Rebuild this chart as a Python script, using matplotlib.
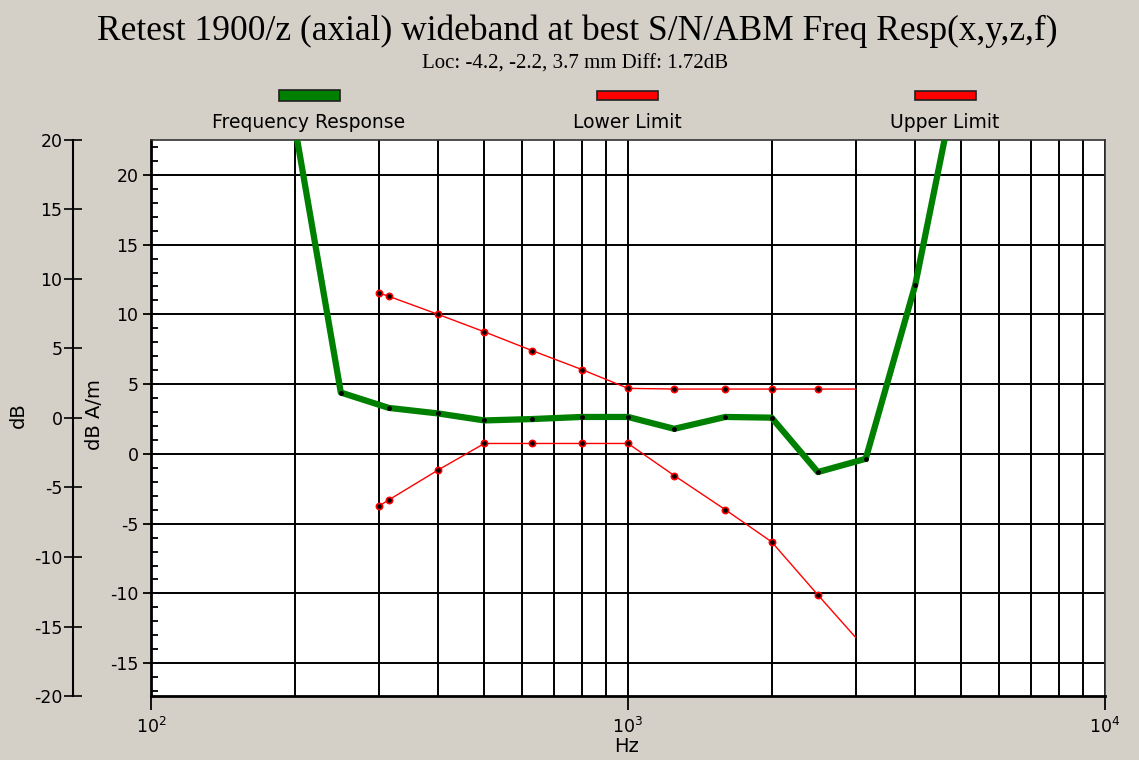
import matplotlib.pyplot as plt
from matplotlib.patches import Rectangle
from matplotlib.ticker import MultipleLocator, FixedLocator, NullFormatter

plt.rcParams["axes.unicode_minus"] = False

# Windows-style grey background
BG = "#d4d0c8"
GREEN = "#008000"
RED = "#ff0000"

# Frequency response (dB A/m)
fr_freq = [200, 250, 315, 400, 500, 630, 800, 1000, 1250, 1600, 2000, 2500, 3150, 4000, 5000]
fr_db = [23.6, 4.4, 3.3, 2.9, 2.4, 2.5, 2.65, 2.65, 1.8, 2.65, 2.6, -1.3, -0.35, 12.1, 28.5]

# Limit masks
lim_freq = [300, 315, 400, 500, 630, 800, 1000, 1250, 1600, 2000, 2500, 3000]
upper_db = [11.55, 11.3, 10.0, 8.75, 7.4, 6.05, 4.7, 4.65, 4.65, 4.65, 4.65, 4.65]
lower_db = [-3.75, -3.3, -1.15, 0.75, 0.75, 0.75, 0.75, -1.55, -4.0, -6.3, -10.1, -13.15]

legend_names = ["Frequency Response", "Lower Limit", "Upper Limit"]
legend_colors = [GREEN, RED, RED]

W, H = 1139, 760
fig = plt.figure(figsize=(W / 100, H / 100), dpi=100, facecolor=BG)

# plot box in pixels: left 151, right 1105, top 140, bottom 696
pos = [151 / W, 1 - 696 / H, (1105 - 151) / W, (696 - 140) / H]

# outer "dB" axis (drawn first, behind)
ax2 = fig.add_axes(pos)
ax2.patch.set_visible(False)
ax2.set_ylim(-20, 20)
ax2.set_xticks([])
for side in ["top", "right", "bottom"]:
    ax2.spines[side].set_visible(False)
ax2.spines["left"].set_position(("outward", 78 * 0.72))
ax2.spines["left"].set_linewidth(1.5)
ax2.yaxis.set_major_locator(MultipleLocator(5))
ax2.tick_params(axis="y", direction="inout", length=13, width=1.2, labelsize=12.5, pad=1)

# main axes
ax = fig.add_axes(pos, facecolor="white")
ax.set_xscale("log")
ax.set_xlim(100, 10000)
ax.set_ylim(-17.35, 22.5)

ax.xaxis.set_major_locator(FixedLocator([100, 1000, 10000]))
ax.xaxis.set_minor_locator(FixedLocator([200, 300, 400, 500, 600, 700, 800, 900,
                                         2000, 3000, 4000, 5000, 6000, 7000, 8000, 9000]))
ax.xaxis.set_minor_formatter(NullFormatter())
ax.yaxis.set_major_locator(MultipleLocator(5))
ax.yaxis.set_minor_locator(MultipleLocator(1))

ax.grid(True, which="major", axis="y", color="black", linewidth=1.4)
ax.grid(True, which="both", axis="x", color="black", linewidth=1.4)

ax.tick_params(axis="x", which="major", direction="out", length=10, width=1.3,
               labelsize=12.5, pad=5)
ax.tick_params(axis="x", which="minor", length=0)
ax.tick_params(axis="y", which="major", direction="out", length=6, width=1.3,
               labelsize=12.5, pad=3)
ax.tick_params(axis="y", which="minor", direction="in", length=5, width=1.3)

for side in ["left", "bottom"]:
    ax.spines[side].set_linewidth(2)
for side in ["top", "right"]:
    ax.spines[side].set_linewidth(1.2)
    ax.spines[side].set_color("#333333")

# limit lines
ax.plot(lim_freq, upper_db, color=RED, linewidth=1.0, marker="o", markersize=4.5,
        markerfacecolor="black", markeredgecolor=RED, markeredgewidth=1.2,
        markevery=slice(0, -1), zorder=3)
ax.plot(lim_freq, lower_db, color=RED, linewidth=1.0, marker="o", markersize=4.5,
        markerfacecolor="black", markeredgecolor=RED, markeredgewidth=1.2,
        markevery=slice(0, -1), zorder=3)

# frequency response
ax.plot(fr_freq, fr_db, color=GREEN, linewidth=4.5, marker="o", markersize=2.5,
        markerfacecolor="black", markeredgecolor="black", zorder=4)

# titles
fig.text(577 / W, 1 - 31 / H, "Retest 1900/z (axial) wideband at best S/N/ABM Freq Resp(x,y,z,f)",
         family="Liberation Serif", fontsize=25.5, ha="center", va="center")
fig.text(575 / W, 1 - 64 / H, "Loc: -4.2, -2.2, 3.7 mm Diff: 1.72dB",
         family="Liberation Serif", fontsize=15, ha="center", va="center")

# legend: bars above labels
for i, (name, col) in enumerate(zip(legend_names, legend_colors)):
    cx = 309 + i * 318
    bh = 11 if i == 0 else 8
    fig.add_artist(Rectangle(((cx - 30) / W, 1 - (95.5 + bh / 2) / H), 61 / W, bh / H,
                             transform=fig.transFigure, facecolor=col,
                             edgecolor="#202020", linewidth=1.2))
    fig.text(cx / W, 1 - 122 / H, name, fontsize=13.5, ha="center", va="center")

# axis labels
fig.text(627 / W, 1 - 747 / H, "Hz", fontsize=14, ha="center", va="center")
fig.text(18 / W, 1 - 415 / H, "dB", fontsize=14, rotation=90, ha="center", va="center")
fig.text(95 / W, 1 - 415 / H, "dB A/m", fontsize=14, rotation=90, ha="center", va="center")

fig.savefig("out.png", dpi=100, facecolor=BG)
